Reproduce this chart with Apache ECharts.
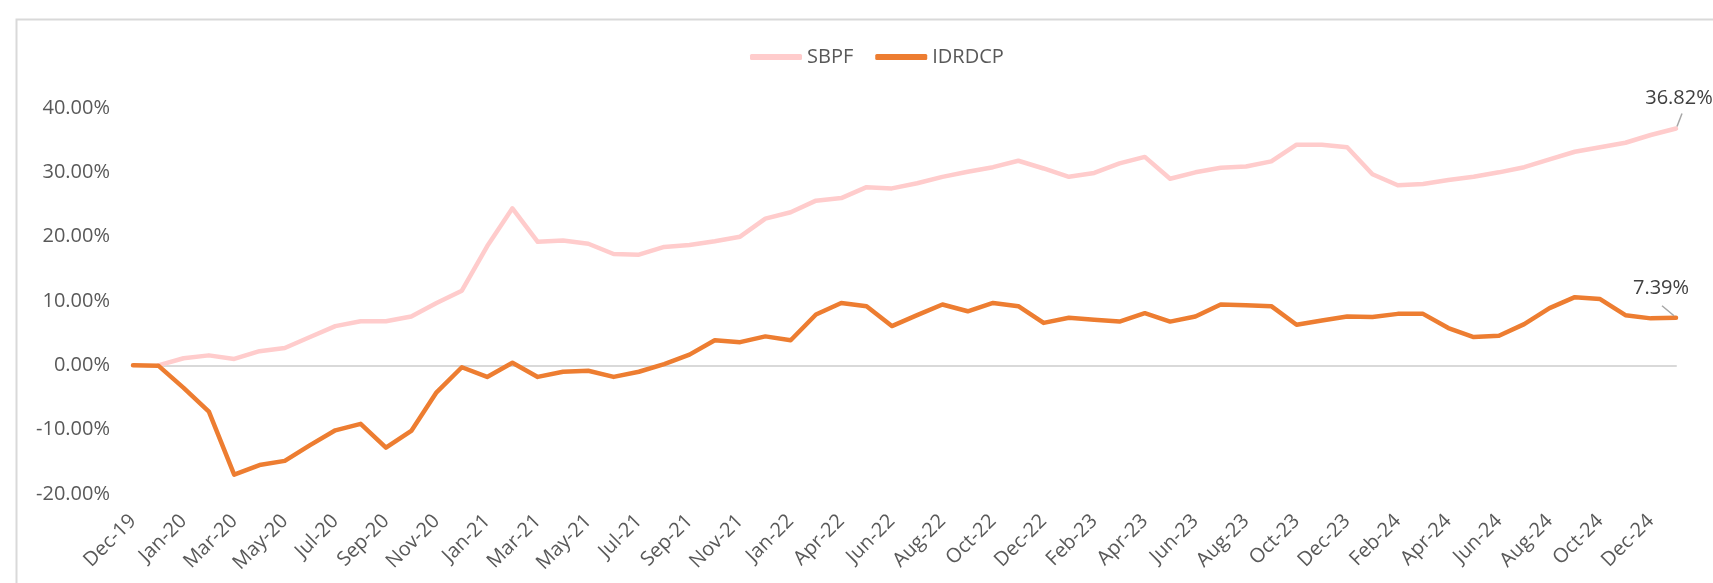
<!DOCTYPE html>
<html>
<head>
<meta charset="utf-8">
<script src="https://cdn.jsdelivr.net/npm/echarts@6/dist/echarts.min.js"></script>
<style>
  html, body { margin: 0; padding: 0; background: #ffffff; }
  #chart { width: 1713px; height: 583px; }
</style>
</head>
<body>
<div id="chart"></div>
<script>
const categories = ["Dec-19","Dec-19","Jan-20","Feb-20","Mar-20","Apr-20","May-20","Jun-20","Jul-20","Aug-20","Sep-20","Oct-20","Nov-20","Dec-20",
  "Jan-21","Feb-21","Mar-21","Apr-21","May-21","Jun-21","Jul-21","Aug-21","Sep-21","Oct-21","Nov-21","Dec-21",
  "Jan-22","Mar-22","Apr-22","May-22","Jun-22","Jul-22","Aug-22","Sep-22","Oct-22","Nov-22","Dec-22",
  "Jan-23","Feb-23","Mar-23","Apr-23","May-23","Jun-23","Jul-23","Aug-23","Sep-23","Oct-23","Nov-23","Dec-23",
  "Jan-24","Feb-24","Mar-24","Apr-24","May-24","Jun-24","Jul-24","Aug-24","Sep-24","Oct-24","Nov-24","Dec-24","Jan-25"];

const seriesNames = ["SBPF", "IDRDCP"];

const sbpf = [null, 0, 1.1, 1.55, 1.0, 2.2, 2.7, 4.4, 6.1, 6.85, 6.85, 7.6, 9.7, 11.6,
  18.5, 24.4, 19.2, 19.4, 18.9, 17.3, 17.2, 18.4, 18.7, 19.3, 20.0, 22.8,
  23.8, 25.6, 26.0, 27.7, 27.5, 28.3, 29.3, 30.1, 30.8, 31.8, 30.6,
  29.3, 29.9, 31.4, 32.4, 29.0, 30.0, 30.7, 30.9, 31.7, 34.3, 34.3, 33.9,
  29.7, 28.0, 28.2, 28.8, 29.3, 30.0, 30.8, 32.0, 33.2, 33.9, 34.6, 35.8, 36.82];

const idrdcp = [0, -0.05, -3.5, -7.2, -17.0, -15.5, -14.85, -12.4, -10.1, -9.1, -12.8, -10.2, -4.2, -0.3,
  -1.8, 0.4, -1.8, -1.0, -0.85, -1.8, -1.0, 0.2, 1.66, 3.9, 3.6, 4.5,
  3.9, 7.9, 9.7, 9.2, 6.1, 7.8, 9.45, 8.4, 9.7, 9.2, 6.6,
  7.4, 7.1, 6.8, 8.1, 6.8, 7.6, 9.45, 9.35, 9.2, 6.3, 6.96, 7.6,
  7.5, 8.0, 8.0, 5.8, 4.4, 4.6, 6.4, 8.9, 10.6, 10.3, 7.8, 7.3, 7.39];

const yTicks = { min: -20, max: 40, interval: 10 };

const FONT = '"Open Sans", "Noto Sans", sans-serif';
const fmtPct = v => Number(v).toFixed(2) + '%';

function withEndLabel(arr) {
  const last = arr.length - 1;
  return arr.map((v, i) => i === last ? { value: v, label: { show: true } } : v);
}

const chart = echarts.init(document.getElementById('chart'), null, { renderer: 'canvas' });

const option = {
  animation: false,
  backgroundColor: '#ffffff',
  textStyle: { fontFamily: FONT },
  graphic: [{
    id: 'border',
    type: 'rect',
    left: 14, top: 17,
    shape: { width: 1760, height: 620 },
    style: { fill: 'none', stroke: '#d9d9d9', lineWidth: 2 },
    silent: true, z: -1
  }],
  legend: {
    top: 42,
    left: 745,
    itemWidth: 52,
    itemHeight: 6,
    itemGap: 22,
    icon: 'roundRect',
    textStyle: { fontSize: 20, color: '#595959', fontFamily: FONT },
    data: seriesNames
  },
  grid: { left: 133, right: 37, top: 108, bottom: 89, containLabel: false },
  xAxis: [{
    type: 'category',
    data: categories,
    boundaryGap: false,
    axisLine: { show: true, onZero: true, lineStyle: { color: '#d9d9d9', width: 2 } },
    axisTick: { show: false },
    axisLabel: { show: false },
    splitLine: { show: false }
  }, {
    type: 'category',
    data: categories,
    boundaryGap: false,
    position: 'bottom',
    axisLine: { show: false, onZero: false },
    axisTick: { show: false },
    axisLabel: { interval: 1, rotate: 45, fontSize: 20, color: '#595959', margin: 24, fontFamily: FONT },
    splitLine: { show: false }
  }],
  yAxis: {
    type: 'value',
    min: yTicks.min, max: yTicks.max, interval: yTicks.interval,
    axisLine: { show: false },
    axisTick: { show: false },
    splitLine: { show: false },
    axisLabel: { formatter: fmtPct, fontSize: 20, color: '#595959', margin: 23, fontFamily: FONT }
  },
  series: [{
    name: seriesNames[0],
    type: 'line',
    data: withEndLabel(sbpf),
    showSymbol: true,
    symbol: 'circle',
    symbolSize: 0,
    connectNulls: false,
    lineStyle: { color: '#ffcccc', width: 4.5, cap: 'round', join: 'round' },
    itemStyle: { color: '#ffcccc' },
    label: { show: false, position: 'top', formatter: p => fmtPct(p.value), fontSize: 20, color: '#404040', fontFamily: FONT },
    labelLayout: { dx: 3, dy: -15 },
    z: 2
  }, {
    name: seriesNames[1],
    type: 'line',
    data: withEndLabel(idrdcp),
    showSymbol: true,
    symbol: 'circle',
    symbolSize: 0,
    lineStyle: { color: '#ed7d31', width: 4.5, cap: 'round', join: 'round' },
    itemStyle: { color: '#ed7d31' },
    label: { show: false, position: 'top', formatter: p => fmtPct(p.value), fontSize: 20, color: '#404040', fontFamily: FONT },
    labelLayout: { dx: -15, dy: -14 },
    z: 3
  }]
};

chart.setOption(option);

// leader lines from the last data point of each series toward its label
const leaderOffsets = [[[1, -2], [6, -15]], [[-2, -2], [-14, -12]]];
const seriesData = [sbpf, idrdcp];
const leaders = seriesData.map((arr, s) => {
  const last = arr.length - 1;
  const pt = chart.convertToPixel({ seriesIndex: s }, [last, arr[last]]);
  const o = leaderOffsets[s];
  return {
    type: 'line',
    shape: { x1: pt[0] + o[0][0], y1: pt[1] + o[0][1], x2: pt[0] + o[1][0], y2: pt[1] + o[1][1] },
    style: { stroke: '#a6a6a6', lineWidth: 1.5 },
    silent: true,
    z: 10
  };
});
chart.setOption({ graphic: option.graphic.concat(leaders) });
</script>
</body>
</html>
